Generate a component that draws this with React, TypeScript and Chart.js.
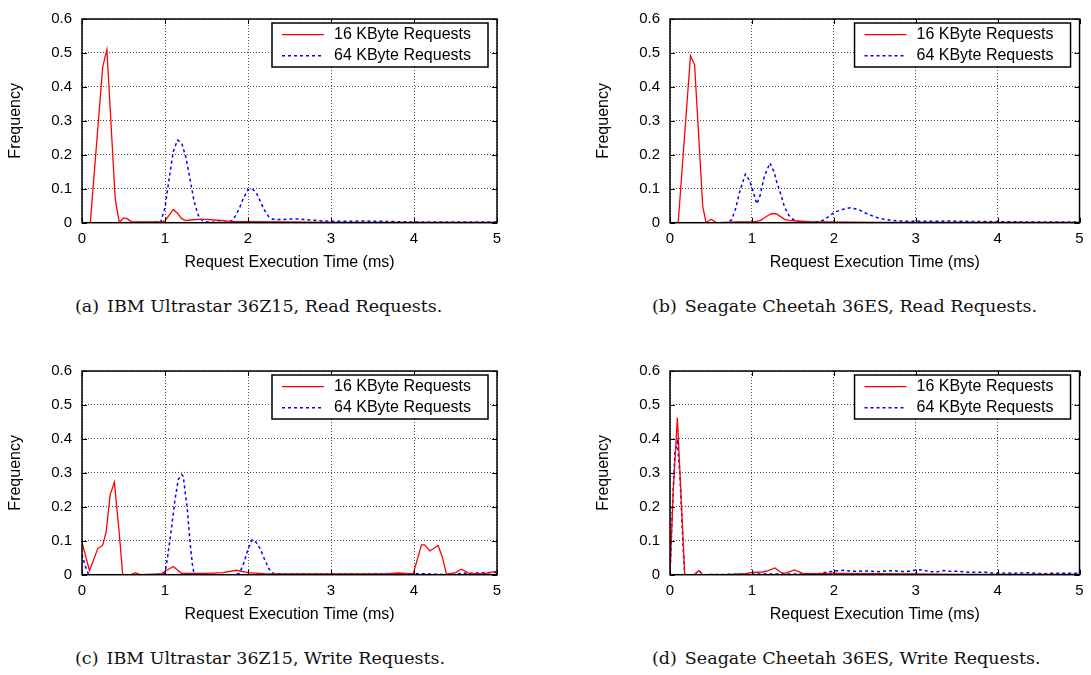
import React, { useEffect, useRef } from 'react';
import { Chart, registerables } from 'chart.js';

Chart.register(...registerables);

// ---------- data ----------
const X_TICK_LABELS = ['0', '1', '2', '3', '4', '5'];
const Y_TICK_LABELS = ['0', '0.1', '0.2', '0.3', '0.4', '0.5', '0.6'];
const SERIES_NAMES = ['16 KByte Requests', '64 KByte Requests'];
const X_TITLE = 'Request Execution Time (ms)';
const Y_TITLE = 'Frequency';
const CAPTION_LABELS = ['(a)', '(b)', '(c)', '(d)'];
const CAPTION_TEXTS = [
  'IBM Ultrastar 36Z15, Read Requests.',
  'Seagate Cheetah 36ES, Read Requests.',
  'IBM Ultrastar 36Z15, Write Requests.',
  'Seagate Cheetah 36ES, Write Requests.',
];

// (a) IBM read
const ibmRead16X = [0, 0.1, 0.25, 0.3, 0.4, 0.45, 0.5, 0.55, 0.6, 0.8, 0.95, 1.0, 1.05, 1.1, 1.15, 1.2, 1.25, 1.3, 1.4, 1.5, 1.6, 1.7, 1.8, 2.0, 2.5, 3.0, 4.0, 5.0];
const ibmRead16Y = [0, 0, 0.46, 0.51, 0.07, 0.0, 0.014, 0.011, 0.002, 0.002, 0.003, 0.005, 0.022, 0.039, 0.028, 0.012, 0.006, 0.008, 0.01, 0.01, 0.008, 0.006, 0.004, 0.003, 0.002, 0.001, 0.001, 0.001];
const ibmRead64X = [0, 0.8, 0.95, 1.0, 1.05, 1.1, 1.15, 1.2, 1.25, 1.3, 1.35, 1.4, 1.45, 1.5, 1.6, 1.75, 1.8, 1.85, 1.9, 1.95, 2.0, 2.05, 2.1, 2.15, 2.2, 2.25, 2.3, 2.4, 2.5, 2.6, 2.7, 2.8, 2.9, 3.0, 3.2, 3.4, 3.6, 3.8, 4.0, 4.5, 5.0];
const ibmRead64Y = [0, 0, 0.003, 0.045, 0.13, 0.21, 0.243, 0.235, 0.195, 0.13, 0.064, 0.022, 0.006, 0.002, 0.001, 0.001, 0.005, 0.02, 0.045, 0.075, 0.097, 0.1, 0.088, 0.062, 0.036, 0.018, 0.01, 0.009, 0.011, 0.011, 0.009, 0.007, 0.005, 0.004, 0.004, 0.005, 0.004, 0.003, 0.002, 0.002, 0.002];

// (b) Seagate read
const seaRead16X = [0, 0.1, 0.25, 0.3, 0.4, 0.44, 0.5, 0.56, 0.6, 0.8, 1.0, 1.1, 1.15, 1.2, 1.25, 1.3, 1.35, 1.4, 1.45, 1.55, 1.7, 1.9, 2.5, 3.0, 5.0];
const seaRead16Y = [0, 0, 0.492, 0.465, 0.048, 0, 0.01, 0.001, 0, 0.002, 0.002, 0.006, 0.014, 0.022, 0.027, 0.026, 0.018, 0.01, 0.007, 0.005, 0.003, 0.002, 0.001, 0.001, 0.001];
const seaRead64X = [0, 0.7, 0.75, 0.8, 0.85, 0.92, 0.97, 1.0, 1.06, 1.1, 1.15, 1.22, 1.27, 1.3, 1.35, 1.4, 1.45, 1.5, 1.55, 1.6, 1.75, 1.85, 1.9, 1.95, 2.0, 2.1, 2.2, 2.3, 2.4, 2.5, 2.6, 2.7, 2.8, 3.0, 3.2, 3.4, 3.6, 4.0, 4.5, 5.0];
const seaRead64Y = [0, 0, 0.008, 0.04, 0.09, 0.143, 0.125, 0.104, 0.055, 0.08, 0.135, 0.176, 0.15, 0.123, 0.085, 0.045, 0.022, 0.01, 0.005, 0.002, 0.001, 0.005, 0.012, 0.02, 0.03, 0.039, 0.044, 0.039, 0.027, 0.017, 0.011, 0.007, 0.005, 0.004, 0.004, 0.005, 0.004, 0.003, 0.002, 0.002];

// (c) IBM write
const ibmWrite16X = [0, 0.09, 0.19, 0.25, 0.29, 0.34, 0.39, 0.45, 0.49, 0.6, 0.64, 0.7, 0.95, 1.0, 1.1, 1.2, 1.5, 1.7, 1.86, 2.0, 2.2, 3.0, 3.7, 3.81, 3.99, 4.09, 4.13, 4.19, 4.29, 4.34, 4.39, 4.5, 4.57, 4.67, 4.85, 4.97, 5.0];
const ibmWrite16Y = [0.096, 0.012, 0.077, 0.087, 0.125, 0.236, 0.272, 0.12, 0, 0.001, 0.006, 0, 0.002, 0.01, 0.024, 0.004, 0.004, 0.006, 0.013, 0.006, 0.003, 0.002, 0.003, 0.005, 0.002, 0.088, 0.088, 0.07, 0.086, 0.053, 0.002, 0.006, 0.016, 0.003, 0.003, 0.009, 0.01];
const ibmWrite64X = [0, 0.04, 0.08, 0.9, 1.0, 1.03, 1.08, 1.12, 1.16, 1.2, 1.22, 1.24, 1.27, 1.3, 1.33, 1.35, 1.4, 1.85, 1.9, 1.95, 2.0, 2.05, 2.1, 2.15, 2.2, 2.25, 2.3, 2.4, 3.0, 4.0, 4.1, 4.4, 4.6, 4.8, 5.0];
const ibmWrite64Y = [0.06, 0.025, 0, 0, 0.005, 0.05, 0.14, 0.22, 0.28, 0.295, 0.29, 0.25, 0.19, 0.1, 0.03, 0.002, 0, 0, 0.005, 0.035, 0.075, 0.103, 0.095, 0.075, 0.045, 0.018, 0.004, 0.002, 0.002, 0.003, 0.003, 0, 0.004, 0.005, 0.007];

// (d) Seagate write
const seaWrite16X = [0, 0.04, 0.09, 0.18, 0.3, 0.35, 0.4, 0.7, 0.92, 1.0, 1.13, 1.2, 1.28, 1.36, 1.4, 1.52, 1.62, 1.8, 2.0, 2.5, 3.0, 3.5, 4.0, 5.0];
const seaWrite16Y = [0, 0.25, 0.462, 0, 0, 0.012, 0, 0, 0.003, 0.007, 0.008, 0.012, 0.02, 0.006, 0.004, 0.014, 0.004, 0.003, 0.004, 0.003, 0.002, 0.001, 0.001, 0.001];
const seaWrite64X = [0, 0.03, 0.06, 0.09, 0.12, 0.16, 0.18, 0.3, 0.35, 0.4, 1.0, 1.8, 1.87, 1.93, 2.03, 2.13, 2.22, 2.3, 2.38, 2.47, 2.55, 2.63, 2.73, 2.8, 2.89, 2.96, 3.08, 3.16, 3.25, 3.34, 3.42, 3.52, 3.6, 3.7, 3.86, 3.94, 4.04, 4.12, 4.22, 4.3, 4.38, 4.48, 4.56, 4.64, 4.74, 4.82, 4.92, 5.0];
const seaWrite64Y = [0, 0.2, 0.36, 0.39, 0.3, 0.08, 0, 0, 0.013, 0, 0.002, 0.002, 0.006, 0.008, 0.0115, 0.013, 0.01, 0.01, 0.011, 0.01, 0.009, 0.011, 0.012, 0.01, 0.009, 0.012, 0.015, 0.009, 0.008, 0.012, 0.01, 0.01, 0.008, 0.007, 0.007, 0.005, 0.004, 0.005, 0.004, 0.005, 0.006, 0.004, 0.003, 0.004, 0.004, 0.004, 0.004, 0.004];

// ---------- helpers ----------
const SANS = '"Liberation Sans", Arial, Helvetica, sans-serif';
const RED = '#ff0000';
const BLUE = '#0000ff';

function pairs(xs: number[], ys: number[]) {
  return xs.map((x, i) => ({ x, y: ys[i] }));
}

const gnuplotFrame = {
  id: 'gnuplotFrame',
  afterDatasetsDraw(chart: any) {
    const { ctx, chartArea: a } = chart;
    const xs = chart.scales.x;
    const ys = chart.scales.y;
    ctx.save();
    ctx.setLineDash([]);
    ctx.strokeStyle = '#000';
    ctx.lineWidth = 1;
    const tick = 5;
    xs.ticks.forEach((t: any) => {
      const p = Math.round(xs.getPixelForValue(t.value)) + 0.5;
      ctx.beginPath();
      ctx.moveTo(p, a.bottom); ctx.lineTo(p, a.bottom - tick);
      ctx.moveTo(p, a.top); ctx.lineTo(p, a.top + tick);
      ctx.stroke();
    });
    ys.ticks.forEach((t: any) => {
      const p = Math.round(ys.getPixelForValue(t.value)) + 0.5;
      ctx.beginPath();
      ctx.moveTo(a.left, p); ctx.lineTo(a.left + tick, p);
      ctx.moveTo(a.right, p); ctx.lineTo(a.right - tick, p);
      ctx.stroke();
    });
    ctx.lineWidth = 1.5;
    ctx.strokeRect(a.left, a.top, a.right - a.left, a.bottom - a.top);

    // legend box
    const bw = 216;
    const bh = 44;
    const bx = a.right - 9 - bw;
    const by = a.top + 4;
    ctx.fillStyle = '#fff';
    ctx.fillRect(bx, by, bw, bh);
    ctx.lineWidth = 1.5;
    ctx.strokeStyle = '#000';
    ctx.strokeRect(bx, by, bw, bh);
    const rows = [by + 11.7, by + 32.7];
    chart.data.datasets.forEach((ds: any, i: number) => {
      const y = rows[i];
      ctx.save();
      ctx.strokeStyle = ds.borderColor;
      ctx.lineWidth = ds.borderWidth;
      ctx.setLineDash(ds.borderDash || []);
      ctx.beginPath();
      ctx.moveTo(bx + 10, y);
      ctx.lineTo(bx + 52, y);
      ctx.stroke();
      ctx.restore();
      ctx.fillStyle = '#000';
      ctx.font = `16px ${SANS}`;
      ctx.textBaseline = 'middle';
      ctx.textAlign = 'left';
      ctx.fillText(ds.label, bx + 62, y);
    });
    ctx.restore();
  },
};

type PanelProps = {
  s16x: number[]; s16y: number[]; s64x: number[]; s64y: number[];
  left: number; top: number; width: number; rightPad: number;
};

function Panel({ s16x, s16y, s64x, s64y, left, top, width, rightPad }: PanelProps) {
  const ref = useRef<HTMLCanvasElement | null>(null);
  useEffect(() => {
    if (!ref.current) return;
    const gridOpts = { color: 'rgba(0,0,0,0.7)', lineWidth: 1, drawTicks: false };
    const borderOpts = { display: false, dash: [1, 2] };
    const chart = new Chart(ref.current, {
      type: 'line',
      data: {
        datasets: [
          {
            label: SERIES_NAMES[0],
            data: pairs(s16x, s16y),
            borderColor: RED,
            borderWidth: 1.3,
            pointRadius: 0,
            fill: false,
            tension: 0,
          },
          {
            label: SERIES_NAMES[1],
            data: pairs(s64x, s64y),
            borderColor: BLUE,
            borderWidth: 1.5,
            borderDash: [3, 3],
            pointRadius: 0,
            fill: false,
            tension: 0,
          },
        ],
      },
      options: {
        responsive: false,
        animation: false,
        events: [],
        layout: { padding: { left: 0, top: 15, right: rightPad, bottom: 0 } },
        plugins: { legend: { display: false }, tooltip: { enabled: false } },
        scales: {
          x: {
            type: 'linear',
            min: 0,
            max: 5,
            ticks: {
              stepSize: 1,
              padding: 7.3,
              color: '#000',
              maxRotation: 0,
              autoSkip: false,
              font: { family: SANS, size: 15 },
              callback: (v: any) => X_TICK_LABELS[Math.round(Number(v))] ?? '',
            },
            grid: gridOpts,
            border: borderOpts,
            title: {
              display: true,
              text: X_TITLE,
              color: '#000',
              font: { family: SANS, size: 16 },
              padding: { top: 0, bottom: 7.4 },
            },
            afterFit: (s: any) => { s.height = 57.3; },
          },
          y: {
            type: 'linear',
            min: 0,
            max: 0.6,
            ticks: {
              stepSize: 0.1,
              padding: 10,
              color: '#000',
              font: { family: SANS, size: 15 },
              callback: (v: any) => Y_TICK_LABELS[Math.round(Number(v) * 10)] ?? '',
            },
            grid: gridOpts,
            border: borderOpts,
            title: {
              display: true,
              text: Y_TITLE,
              color: '#000',
              font: { family: SANS, size: 16 },
              padding: { top: 6.4, bottom: 0 },
            },
            afterFit: (s: any) => { s.width = 82; },
          },
        },
      },
      plugins: [gnuplotFrame],
    } as any);
    return () => chart.destroy();
  }, []);
  return (
    <canvas
      ref={ref}
      width={width}
      height={280}
      style={{ position: 'absolute', left, top, width, height: 280 }}
    />
  );
}

function Caption({ idx, left, top }: { idx: number; left: number; top: number }) {
  return (
    <div
      style={{
        position: 'absolute',
        left,
        top,
        whiteSpace: 'nowrap',
        fontFamily: '"DejaVu Serif", "Liberation Serif", serif',
        fontSize: 17.5,
        lineHeight: '22px',
        color: '#111',
      }}
    >
      <span style={{ marginRight: 8 }}>{CAPTION_LABELS[idx]}</span>
      {CAPTION_TEXTS[idx]}
    </div>
  );
}

export default function App() {
  return (
    <div style={{ position: 'absolute', left: 0, top: 0, width: 1091, height: 675, background: '#fff', overflow: 'hidden' }}>
      <Panel s16x={ibmRead16X} s16y={ibmRead16Y} s64x={ibmRead64X} s64y={ibmRead64Y} left={0} top={0} width={510} rightPad={13} />
      <Panel s16x={seaRead16X} s16y={seaRead16Y} s64x={seaRead64X} s64y={seaRead64Y} left={588} top={0} width={503} rightPad={6.7} />
      <Panel s16x={ibmWrite16X} s16y={ibmWrite16Y} s64x={ibmWrite64X} s64y={ibmWrite64Y} left={0} top={352} width={510} rightPad={13} />
      <Panel s16x={seaWrite16X} s16y={seaWrite16Y} s64x={seaWrite64X} s64y={seaWrite64Y} left={588} top={352} width={503} rightPad={6.7} />
      <Caption idx={0} left={75} top={295} />
      <Caption idx={1} left={652} top={295} />
      <Caption idx={2} left={75} top={647} />
      <Caption idx={3} left={652} top={647} />
    </div>
  );
}
